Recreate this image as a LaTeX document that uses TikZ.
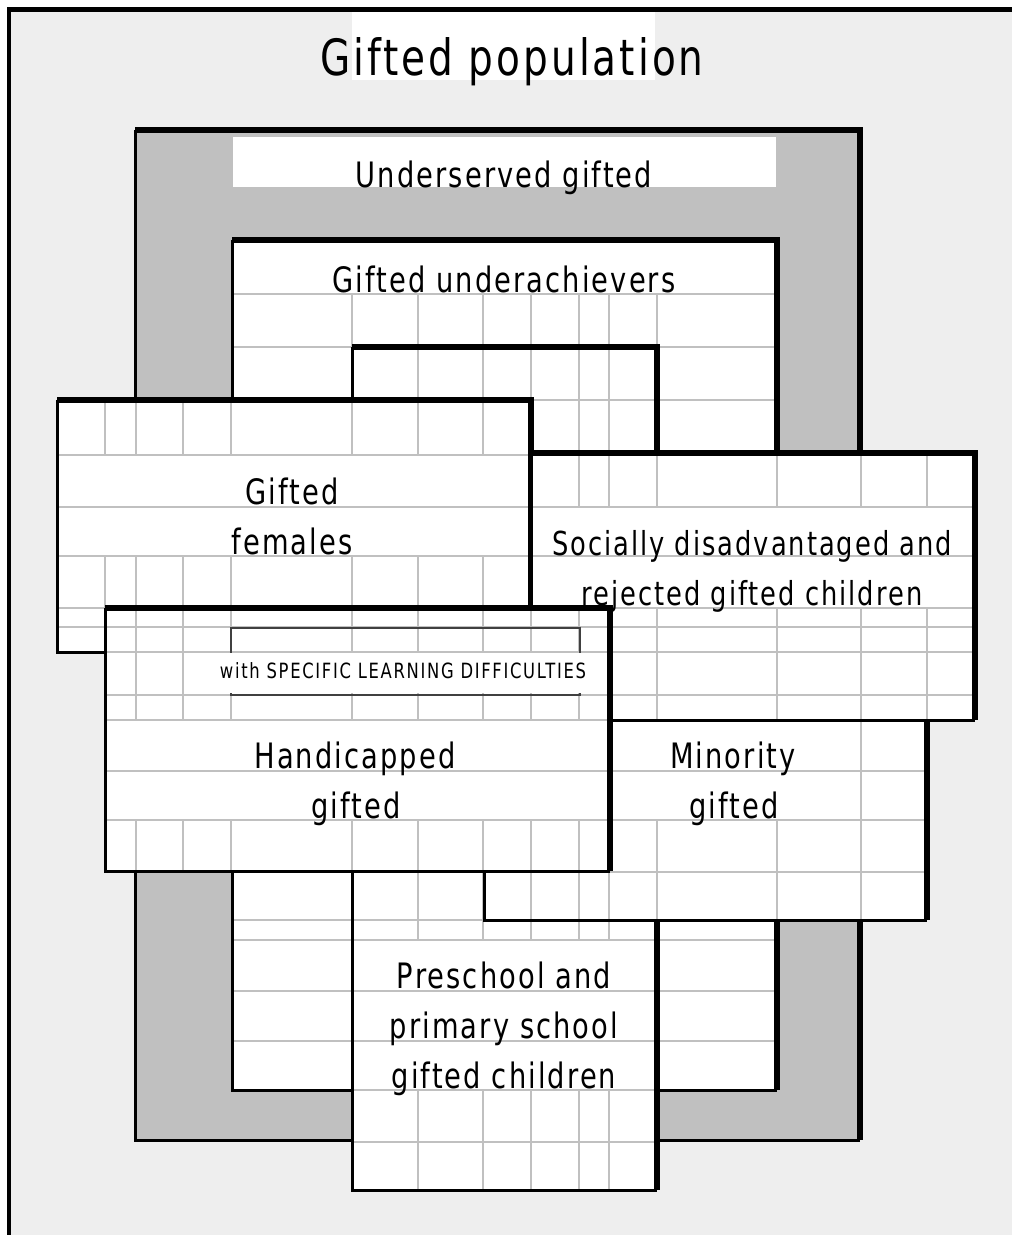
\documentclass[tikz,border=0pt]{standalone}
\usepackage{fontspec}
\newfontfamily\lblfont[FakeStretch=0.78,LetterSpace=6]{DejaVu Sans}
\newfontfamily\smlfont[FakeStretch=0.78,LetterSpace=8]{DejaVu Sans}
\definecolor{bggray}{HTML}{EEEEEE}
\definecolor{gridgray}{HTML}{C0C0C0}
\definecolor{boxgray}{HTML}{C0C0C0}
\definecolor{brackgray}{HTML}{404040}
\newcommand\gridbox[7]{%
  \begin{scope}
    \clip (#1,#2) rectangle (#3,#4);
    \fill[white] (#1,#2) rectangle (#3,#4);
    \foreach \vx in {105,136,183,231,352,418,483,531,579,609,657,777,861,927}
      \draw[gridline] (\vx,#2) -- (\vx,#4);
    \fill[white] (#1,#5) rectangle (#7,#6);
    \foreach \hy in {294,347,400,455,507,556,608,627,652,695,720,771,820,872,920,940,991,1041,1090,1142}
      \draw[gridline] (#1,\hy) -- (#3,\hy);
  \end{scope}
  \draw[thinedge] (#1,#2) -- (#1,#4) -- (#3,#4);
  \draw[thickedge] (#1,#2) -- (#3,#2) -- (#3,#4);
}
\begin{document}
\begin{tikzpicture}[x=1pt,y=-1pt,
  gridline/.style={draw=gridgray,line width=2.2pt},
  thinedge/.style={draw=black,line width=3pt,line cap=square},
  thickedge/.style={draw=black,line width=5.5pt,line cap=square},
  lbl/.style={font=\lblfont\fontsize{35}{42}\selectfont,inner sep=0pt,anchor=base},
  ttl/.style={font=\lblfont\fontsize{50}{60}\selectfont,inner sep=0pt,anchor=base}]
\useasboundingbox (0,0) rectangle (1012,1235);
% background and frame
\fill[white] (0,0) rectangle (1012,1235);
\fill[bggray] (9,10) rectangle (1012,1235);
\draw[black,line width=5pt] (7,9.5) -- (1012,9.5);
\draw[black,line width=3.5pt] (9,8) -- (9,1235);
% title
\fill[white] (352,12) rectangle (655,80);
\node[ttl] (title) at (512,75) {Gifted population};
% underserved gifted
\fill[boxgray] (135,130) rectangle (860,1140);
\fill[white] (233,137) rectangle (776,187);
\node[lbl] (under) at (504,187) {Underserved gifted};
\draw[thinedge] (135,130) -- (135,1140) -- (860,1140);
\draw[thickedge] (135,130) -- (860,130) -- (860,1140);
% gifted underachievers
\gridbox{232}{240}{777}{1090}{240}{293}{777}
\node[lbl] (ach) at (504,292) {Gifted underachievers};
% preschool
\gridbox{352}{347}{657}{1190}{941}{1089}{657}
\node[lbl] (pre1) at (504,988) {Preschool and};
\node[lbl] (pre2) at (504,1038) {primary school};
\node[lbl] (pre3) at (504,1088) {gifted children};
% gifted females
\gridbox{57}{400}{531}{652}{456}{555}{531}
\node[lbl] (fem1) at (292,504) {Gifted};
\node[lbl] (fem2) at (292,554) {females};
% minority
\gridbox{484}{690}{927}{920}{721}{819}{859}
\node[lbl] (min1) at (733,768) {Minority};
\node[lbl] (min2) at (734,818) {gifted};
% socially
\gridbox{531}{453}{975}{720}{508}{607}{975}
\node[lbl,font=\lblfont\fontsize{33}{40}\selectfont] (soc1) at (752,555) {Socially disadvantaged and};
\node[lbl,font=\lblfont\fontsize{33}{40}\selectfont] (soc2) at (752,605) {rejected gifted children};
% handicapped
\gridbox{105}{608}{610}{871}{721}{819}{610}
\draw[brackgray,line width=2pt] (231,695) -- (231,628) -- (580,628) -- (580,695) -- cycle;
\fill[white] (229,653) rectangle (582,693);
\node[font=\smlfont\fontsize{21}{25}\selectfont,inner sep=0pt,anchor=base] (sld) at (403,678) {with SPECIFIC LEARNING DIFFICULTIES};
\node[lbl] (hand1) at (355,768) {Handicapped};
\node[lbl] (hand2) at (356,818) {gifted};
\end{tikzpicture}
\end{document}
